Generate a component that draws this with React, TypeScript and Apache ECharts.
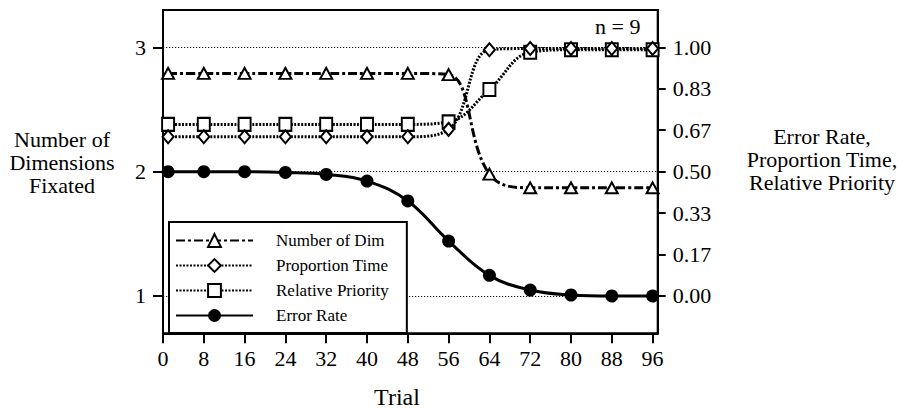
import { useEffect, useRef } from "react";
import * as echarts from "echarts";

// Trial numbers at which each measure was sampled
const trials = [1, 8, 16, 24, 32, 40, 48, 56, 64, 72, 80, 88, 96];

// Left scale: number of dimensions fixated
const numberOfDim = [2.79, 2.79, 2.79, 2.79, 2.79, 2.79, 2.79, 2.78, 1.98, 1.87, 1.87, 1.87, 1.87];

// Right scale: proportions (0..1)
const proportionTime = [0.64, 0.64, 0.64, 0.64, 0.64, 0.64, 0.64, 0.67, 0.99, 0.995, 0.995, 0.995, 0.995];
const relativePriority = [0.69, 0.69, 0.69, 0.69, 0.69, 0.69, 0.69, 0.7, 0.83, 0.98, 0.99, 0.99, 0.99];
const errorRate = [0.5, 0.5, 0.5, 0.497, 0.489, 0.462, 0.382, 0.221, 0.083, 0.024, 0.004, 0, 0];

// Tick positions
const xTicks = [0, 8, 16, 24, 32, 40, 48, 56, 64, 72, 80, 88, 96];
const leftTicks = [1, 2, 3];
const rightTicks = [0, 1 / 6, 2 / 6, 3 / 6, 4 / 6, 5 / 6, 1];
// Dotted reference lines on the right scale
const guideLines = [0, 0.5, 1];

const FONT = "Liberation Serif";
const BLACK = "#000";

const pairs = (ys: number[]) => trials.map((t, i) => [t, ys[i]]);

const titleText = (text: string, x: number, y: number, size: number, align = "center") => ({
  type: "text",
  x,
  y,
  style: {
    text,
    fontFamily: FONT,
    fontSize: size,
    lineHeight: size,
    fill: BLACK,
    align,
    verticalAlign: "middle",
  },
});

export default function App() {
  const ref = useRef<HTMLDivElement>(null);

  useEffect(() => {
    if (!ref.current) return;
    const chart = echarts.init(ref.current, undefined, { renderer: "svg" });

    const axisLine = { show: true, onZero: false, lineStyle: { color: BLACK, width: 2 } };

    chart.setOption({
      animation: false,
      backgroundColor: "#fff",
      grid: {
        left: 163,
        top: 10,
        width: 494.7,
        height: 323.3,
        show: true,
        borderColor: BLACK,
        borderWidth: 2,
        backgroundColor: "transparent",
        containLabel: false,
        outerBoundsMode: "none",
      },
      xAxis: {
        type: "value",
        min: 0,
        max: 97,
        axisLine,
        axisTick: {
          show: true,
          length: 10,
          customValues: xTicks,
          lineStyle: { color: BLACK, width: 2 },
        },
        axisLabel: {
          customValues: xTicks,
          fontFamily: FONT,
          fontSize: 22,
          color: BLACK,
          margin: 14,
        },
        splitLine: { show: false },
      },
      yAxis: [
        {
          type: "value",
          position: "left",
          min: 0.7,
          max: 3.3,
          axisLine,
          axisTick: {
            show: true,
            length: 10,
            customValues: leftTicks,
            lineStyle: { color: BLACK, width: 2 },
          },
          axisLabel: {
            customValues: leftTicks,
            fontFamily: FONT,
            fontSize: 22,
            color: BLACK,
            margin: 17,
          },
          splitLine: { show: false },
        },
        {
          type: "value",
          position: "right",
          min: -0.15,
          max: 1.15,
          axisLine,
          axisTick: {
            show: true,
            length: 8,
            customValues: rightTicks,
            lineStyle: { color: BLACK, width: 2 },
          },
          axisLabel: {
            customValues: rightTicks,
            formatter: (v: number) => v.toFixed(2),
            fontFamily: FONT,
            fontSize: 22,
            color: BLACK,
            margin: 15,
          },
          splitLine: { show: false },
        },
      ],
      legend: {
        orient: "vertical",
        left: 169,
        top: 222,
        padding: [10, 18, 9, 6],
        itemWidth: 77,
        itemHeight: 16,
        itemGap: 8,
        backgroundColor: "#fff",
        borderColor: BLACK,
        borderWidth: 2,
        selectedMode: false,
        textStyle: {
          fontFamily: FONT,
          fontSize: 17,
          color: BLACK,
          padding: [0, 0, 0, 18],
        },
        data: ["Number of Dim", "Proportion Time", "Relative Priority", "Error Rate"],
      },
      series: [
        {
          name: "Error Rate",
          type: "line",
          yAxisIndex: 1,
          data: pairs(errorRate),
          smooth: 0.4,
          symbol: "circle",
          symbolSize: 13,
          lineStyle: { color: BLACK, width: 3 },
          itemStyle: { color: BLACK },
          z: 3,
          markLine: {
            silent: true,
            z: 1,
            symbol: "none",
            label: { show: false },
            lineStyle: { color: "#111", width: 1.2, type: [1.2, 1.8] },
            data: guideLines.map((v) => ({ yAxis: v })),
          },
        },
        {
          name: "Relative Priority",
          type: "line",
          yAxisIndex: 1,
          data: pairs(relativePriority),
          smooth: 0.4,
          symbol: "rect",
          symbolSize: [12, 13],
          lineStyle: { color: BLACK, width: 3, type: [2, 1.5] },
          itemStyle: { color: "#fff", borderColor: BLACK, borderWidth: 2 },
          z: 4,
        },
        {
          name: "Proportion Time",
          type: "line",
          yAxisIndex: 1,
          data: pairs(proportionTime),
          smooth: 0.4,
          symbol: "diamond",
          symbolSize: [11, 13],
          lineStyle: { color: BLACK, width: 3, type: [2, 1.5] },
          itemStyle: { color: "#fff", borderColor: BLACK, borderWidth: 2 },
          z: 5,
        },
        {
          name: "Number of Dim",
          type: "line",
          yAxisIndex: 0,
          data: pairs(numberOfDim),
          smooth: 0.4,
          symbol: "triangle",
          symbolSize: [12, 11],
          lineStyle: { color: BLACK, width: 3, type: [9, 3, 3, 3] },
          itemStyle: { color: "#fff", borderColor: BLACK, borderWidth: 2 },
          z: 6,
        },
      ],
      graphic: [
        titleText("Number of", 62, 139, 22),
        titleText("Dimensions", 62, 162, 22),
        titleText("Fixated", 62, 185, 22),
        titleText("Error Rate,", 822, 136.5, 22),
        titleText("Proportion Time,", 822, 159.5, 22),
        titleText("Relative Priority", 822, 182.5, 22),
        titleText("Trial", 397, 397, 24),
        titleText("n = 9", 595, 26, 22, "left"),
      ],
    });

    return () => chart.dispose();
  }, []);

  return (
    <div
      ref={ref}
      style={{ position: "fixed", left: 0, top: 0, width: 905, height: 409 }}
    />
  );
}
